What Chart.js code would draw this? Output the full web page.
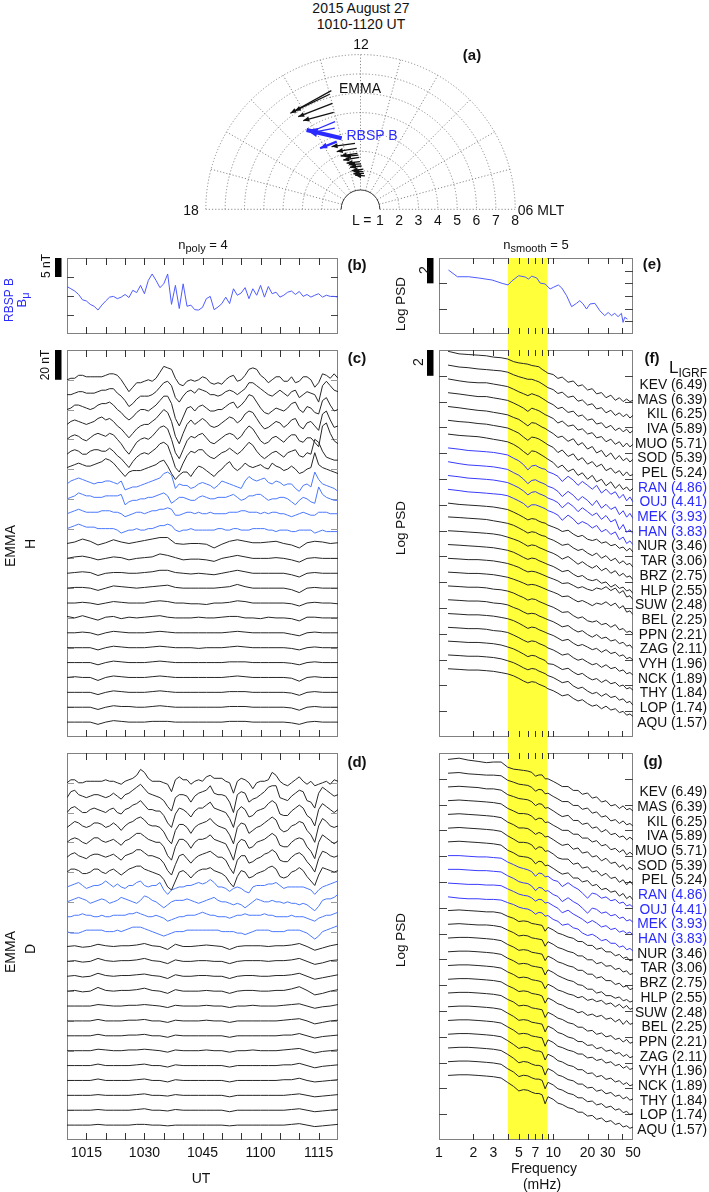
<!DOCTYPE html>
<html>
<head>
<meta charset="utf-8">
<script src="https://cdn.jsdelivr.net/npm/chart.js@4.4.1/dist/chart.umd.min.js"></script>
<style>
body { margin: 0; background: #fff; font-family: "Liberation Sans", Arial, sans-serif; color: #111; }
#page { position: relative; width: 709px; height: 1192px; overflow: hidden; }
canvas { position: absolute; }
.t { position: absolute; white-space: nowrap; font-size: 14px; line-height: 1; transform: translate(-50%, -50%); }
.r { transform: translate(-50%, -50%) rotate(-90deg); }
.b { font-weight: bold; font-size: 15px; }
.blue { color: #2b2bff; }
sub { font-size: 11px; vertical-align: -3px; }
</style>
</head>
<body>
<div id="page">
  <canvas id="chartA" width="360" height="195" style="left:180px;top:38px"></canvas>
  <canvas id="chartB" width="360" height="105" style="left:0;top:240px"></canvas>
  <canvas id="chartC" width="360" height="400" style="left:0;top:345px"></canvas>
  <canvas id="chartD" width="360" height="447" style="left:0;top:745px"></canvas>
  <canvas id="chartE" width="349" height="105" style="left:360px;top:240px"></canvas>
  <canvas id="chartF" width="349" height="400" style="left:360px;top:345px"></canvas>
  <canvas id="chartG" width="349" height="447" style="left:360px;top:745px"></canvas>

  <div class="t" style="left:361px;top:8px">2015 August 27</div>
  <div class="t" style="left:361px;top:24px">1010-1120 UT</div>
  <div class="t" style="left:361px;top:44px">12</div>
  <div class="t b" style="left:472px;top:54px">(a)</div>
  <div class="t" style="left:360px;top:88px">EMMA</div>
  <div class="t blue" style="left:372px;top:135px">RBSP B</div>
  <div class="t" style="left:191px;top:210px">18</div>
  <div class="t" style="left:541px;top:210px">06 MLT</div>

  <div class="t" style="left:203px;top:246px;font-size:13px">n<sub>poly</sub> = 4</div>
  <div class="t" style="left:536px;top:246px;font-size:13px">n<sub>smooth</sub> = 5</div>

  <div class="t r blue" style="left:9px;top:300px;font-size:12px">RBSP B</div>
  <div class="t r blue" style="left:23px;top:300px;font-size:13px">B<sub>μ</sub></div>
  <div class="t r" style="left:46px;top:266px;font-size:12px">5 nT</div>
  <div class="t r" style="left:45px;top:365px;font-size:12px">20 nT</div>
  <div class="t r" style="left:10px;top:546px">EMMA</div>
  <div class="t r" style="left:30px;top:544px">H</div>
  <div class="t r" style="left:10px;top:952px">EMMA</div>
  <div class="t r" style="left:30px;top:949px">D</div>
  <div class="t" style="left:201px;top:1178px">UT</div>

  <div class="t r" style="left:401px;top:304px;font-size:13.5px">Log PSD</div>
  <div class="t r" style="left:401px;top:528px;font-size:13.5px">Log PSD</div>
  <div class="t r" style="left:401px;top:940px;font-size:13.5px">Log PSD</div>
  <div class="t r" style="left:424px;top:270px">2</div>
  <div class="t r" style="left:418px;top:362px">2</div>
  <div class="t" style="left:544px;top:1168px">Frequency</div>
  <div class="t" style="left:542px;top:1184px">(mHz)</div>

  <div class="t b" style="left:357px;top:264px">(b)</div>
  <div class="t b" style="left:357px;top:357px">(c)</div>
  <div class="t b" style="left:357px;top:761px">(d)</div>
  <div class="t b" style="left:652px;top:263px">(e)</div>
  <div class="t b" style="left:652px;top:357px">(f)</div>
  <div class="t b" style="left:653px;top:760px">(g)</div>
  <div class="t" style="left:688px;top:367px"><span style="font-size:17px">L</span><span style="font-size:12px;position:relative;top:4px">IGRF</span></div>
</div>

<script>
// ---- stations (top to bottom) ----
const stationCodes = ['KEV','MAS','KIL','IVA','MUO','SOD','PEL','RAN','OUJ','MEK','HAN','NUR',
                      'TAR','BRZ','HLP','SUW','BEL','PPN','ZAG','VYH','NCK','THY','LOP','AQU'];
const stationL = [6.49,6.39,6.25,5.89,5.71,5.39,5.24,4.86,4.41,3.93,3.83,3.46,
                  3.06,2.75,2.55,2.48,2.25,2.21,2.11,1.96,1.89,1.84,1.74,1.57];
const highlighted = ['RAN','OUJ','MEK','HAN'];

// ---- (a) arrows: tail / head as (L, MLT) ----
const emmaTailL   = [6.32,6.16,5.67,5.20,3.42,3.16,2.90,2.80,2.69,2.47,2.35,2.24,2.08,1.95,1.87,1.74];
const emmaTailMlt = [12.92,13.00,12.99,13.03,12.32,12.24,12.21,12.15,12.09,12.05,11.95,11.90,11.73,11.70,11.63,11.50];
const emmaHeadL   = [6.15,6.12,5.77,5.46,3.57,3.23,2.94,2.85,2.70,2.49,2.38,2.24,2.05,1.98,1.87,1.79];
const emmaHeadMlt = [14.41,14.25,14.26,14.19,13.65,13.49,13.36,13.10,13.28,13.12,12.95,12.93,12.86,12.70,12.76,12.60];
const rbspTailL   = [3.80,4.72,4.40,3.71];
const rbspTailMlt = [12.99,13.08,13.17,13.29];
const rbspHeadL   = [4.96,4.73,4.62,3.79];
const rbspHeadMlt = [14.28,13.99,13.97,14.23];
const polarRings = [1,2,3,4,5,6,7,8];
const polarHours = [6,7,8,9,10,11,12,13,14,15,16,17,18];

// ---- time axis (minutes after 1010 UT) ----
const minutesFine = Array.from({length: 71}, (_, k) => k);
const minutesCoarse = Array.from({length: 36}, (_, k) => 2 * k);
const utTickMinutes = [5,10,15,20,25,30,35,40,45,50,55,60,65];
const utLabelMinutes = [5,20,35,50,65];

// ---- (b) RBSP B  B_mu, nT ----
const rbspBmu = [2.5,1.9,1.3,0.4,-1.0,-1.3,-2.2,-2.7,-3.7,-2.4,-1.3,-0.3,-0.1,-0.7,-0.3,0.4,-0.4,1.5,0.9,2.8,
  0.6,4.1,5.8,4.1,2.2,3.2,5.8,-2.2,2.8,-3.3,3.2,-2.7,-2.4,-3.6,-3.7,-3.0,-0.7,-0.1,-3.6,-2.9,
  -2.0,-0.3,-2.0,1.9,0.2,0.8,2.2,-0.7,1.9,0.2,2.8,-0.3,2.5,0.6,1.0,-0.3,0.2,1.0,1.3,0.4,
  1.2,-0.1,0.4,-0.3,0.2,0.6,-0.3,0.2,-0.1,-0.1,-0.3];

// ---- (c) EMMA H, nT ----
const hKEV = [0,1,1,3,3,2,2,2,2,2, 3,4,4,3,0,-4,-8,-5,-2,-2, -1,0,-1,1,5,9,8,7,1,-3, -4,-1,0,-1,0,2,1,-2,-3,-2, -3,0,2,3,-1,0,3,7,8,7, 3,1,-2,0,2,2,-1,-1,2,-2, -1,2,2,0,-5,-2,4,3,1,4, 1];
const hMAS = [0,0,1,2,2,1,1,1,2,3, 3,4,4,1,-1,-4,-8,-6,-3,-1, -1,-1,0,2,5,8,9,6,-2,-5, -1,2,3,1,4,3,2,0,0,-1, 0,2,3,2,0,2,4,8,8,6, 4,2,0,-1,1,3,1,-1,2,3, -2,0,2,1,0,-5,6,9,6,3, 2];
const hKIL = [0,1,3,3,2,1,0,1,3,4, 4,5,3,0,-2,-5,-7,-5,-2,0, 0,-1,1,3,6,9,9,4,-6,-11, -5,1,2,-1,2,3,1,-1,-1,0, 0,2,4,5,1,3,6,10,9,5, 1,-2,-3,-1,1,0,-1,1,4,5, 0,-2,2,1,-2,-3,6,8,3,-1, 0];
const hIVA = [0,2,3,2,1,0,1,2,4,5, 3,4,2,-1,-3,-6,-9,-6,-3,-1, 0,0,2,4,7,10,8,2,-8,-13, -6,0,3,0,2,4,2,-1,-2,-1, 1,3,5,4,1,3,7,9,8,4, 0,-3,-2,0,2,1,-2,0,3,4, -1,-3,1,2,-1,-4,7,9,3,-2, -1];
const hMUO = [0,2,3,2,0,-1,1,3,4,3, 2,4,3,0,-3,-7,-10,-6,-2,0, 1,0,2,5,8,9,7,0,-9,-13, -7,-1,2,1,3,4,1,-2,-3,-1, 1,3,4,3,0,2,6,9,7,3, -1,-3,-2,1,2,0,-2,1,3,3, -1,-2,1,1,-2,-5,9,11,4,-1, -3];
const hSOD = [0,2,3,2,0,0,2,3,3,2, 2,4,2,-1,-3,-6,-9,-5,-2,0, 1,0,2,4,7,8,6,-1,-9,-12, -6,-1,2,1,3,3,0,-2,-3,-1, 1,2,4,2,0,2,5,8,6,2, -1,-3,-1,1,2,0,-2,1,2,3, -1,-2,1,0,10,8,2,-2,-3,-4, -4];
const hPEL = [1,2,3,4,3,2,2,3,4,5, 7,6,4,1,-2,-5,-2,-1,-1,-1, 0,1,2,3,5,6,2,-3,-7,-4, -2,-2,-5,-1,2,1,-1,-3,-5,-2, 0,3,5,1,-1,1,4,2,1,2, 3,1,0,4,2,1,-1,0,2,0, -3,-2,0,1,11,3,1,0,-1,-2, -3];
const hRAN = [0,2,3,4,3,2,1,0,1,1, 2,2,1,0,2,-4,-3,-2,-2,-1, 0,1,2,3,4,7,8,6,-3,0, -1,-1,-3,-2,0,1,0,-1,-3,-1, 2,1,0,-1,-2,-3,2,5,3,2, 3,4,1,0,2,1,-1,0,0,-3, -5,-1,0,-2,8,3,0,-1,-2,-3, -5];
const hOUJ = [0,1,2,4,3,2,2,1,1,1, 2,2,2,2,3,-4,-2,-1,-1,0, 0,1,1,2,3,4,2,-3,-1,1, 1,0,-1,-1,1,2,1,0,0,1, 1,1,2,3,1,-1,0,2,2,3, 3,1,-1,0,0,1,1,0,-2,-4, -1,1,0,-2,-3,8,3,1,0,-1, -1];
const hMEK = [0,1,2,3,2,1,1,1,1,2, 2,2,1,1,0,-2,-1,0,1,1, 0,1,2,2,3,3,4,3,-1,-1, 0,1,1,0,1,0,0,1,0,0, 0,0,1,1,1,2,2,1,1,1, 0,1,0,1,1,0,0,-1,-2,-1, 0,1,0,-1,-1,1,1,1,0,0, 0];
const hHAN = [0,1,2,3,2,1,1,1,0,0, 0,0,0,-1,-3,-2,-1,-1,0,-1, -1,0,0,1,2,2,3,2,-1,-2, -1,-1,0,-1,-1,-1,-1,-1,-1,0, 0,-1,-1,0,0,-1,-1,-1,0,0, 0,0,-1,-1,-2,-1,-1,-1,-2,-2, -1,-1,-1,-1,-3,-2,-1,-2,-2,-2, -2];
const hNUR = [0,1,3,1.5,-1,0.5,2.5,1,0,1, 2,3,4,4,0,-0.5,0,0,-0.5,-3, -0.5,1.5,2.5,1.5,0.5,0.5,1,1.5,0,-1, -3,0.5,1.5,1,0,0.5];
const hTAR = [0,1,1.5,0.5,-1,0,1,0.5,-1,0, 0.5,1,3,2,0.5,-1,-0.5,-0.5,-1,-2, 0,1,2,1,0,0,0,0.5,0,-1, -2.5,0,0.5,0,0,0];
const hBRZ = [0,0.5,1,0.5,-1.5,0,0.5,0.5,0,0, 0.5,1,2,2,0.5,0,-0.5,0,-0.5,-1, 0,1,2,1,0,0,0,0,0,-1, -2.5,0,0.5,0,0,0];
const hHLP = [0,0.5,0.5,0,-1.5,0,1.5,1,0.5,0, 0.5,1,1.5,2,0.5,0,0,0,0,0, 0.5,1,2.5,1,0,0,0,0,0,-1, -3,0,0.5,0,0,0];
const hSUW = [0,0,0.5,0,-1,0,1,0.5,0,0, 0,1,1.5,1,0,0,-0.5,-0.5,-1,0, 0,0.5,1.5,1,0,0,0,0,0,-0.5, -2,0,0.5,0,0,-0.5];
const hBEL = [1,0,1.5,0,-1.5,0.5,1,-0.5,0.5,0, 0.5,1,1.5,0.5,0,0,0,0.5,0,0, 0.5,1,1,0,0,-0.5,0.5,0,0,-0.5, -2,0.5,0.5,0,0,0];
const hPPN = [0,0,0.5,0,-1.5,0,1,0.5,0,0, 0,0.5,1,0.5,0,0,0,0,0,0, 0,0.5,1,0.5,0,0,0,0,0,-1, -2,0,0.5,0,0,0];
const hZAG = [0,0,0,0,-1.5,0,1,0.5,0,0, 0,0.5,1,0.5,0,0,0,-0.5,0,0, 0,0.5,1,0.5,0,0,0,0,0,-0.5, -1.5,0,0.5,0,0,0];
const hVYH = [0,0,0,0,-1.5,0,1,0.5,0,0, 0,0.5,1,0.5,0,0,0,0,0,0, 0,0.5,0.5,0.5,0,0,0,0,0,-0.5, -1.5,0,0.5,0,0,0];
const hNCK = [0,0.5,0,0,-2,0,1,0.5,0,0, 0,0.5,1,0.5,0,0,0,0,0,0, 0,0.5,1,0.5,0,0,0,0,0,-0.5, -2.5,0,0.5,0,0,0];
const hTHY = [0,0,0,0,-1.5,0,1,0.5,0,0, 0,0.5,1,0.5,0,0,0,0,0,0, 0,0.5,0.5,0.5,0,0,0,0,0,-0.5, -2,0,0.5,0,0,0];
const hLOP = [0,0,0,0,-1.5,0,1,0.5,0.5,0, 0,0.5,1,0.5,0,0,0,0,0,0, 0,0.5,0.5,0.5,0,0,0,0,0,-0.5, -2,0,0.5,0,0,0];
const hAQU = [0,0,0,0,-1.5,0,1,0.5,0,0, 0,0.5,0.5,0.5,0,0,0,0,0,0, 0,0.5,0.5,0.5,0,0,0,0,0,-0.5, -1.5,0,0.5,0,0,0];

// ---- (d) EMMA D, nT ----
const dKEV = [0,2,2,0,0,1,1,1,1,1, 2,1,1,0,-1,1,2,3,5,9, 7,3,1,1,1,0,-1,-6,2,4, 2,2,-1,1,2,1,4,5,3,3, 3,1,0,-7,1,3,2,0,-4,0, 1,1,2,7,5,1,-1,-2,0,2, 4,1,-1,1,-2,-1,0,1,-1,2, 1];
const dMAS = [0,4,5,2,1,0,1,2,2,1, 0,1,3,1,-1,2,3,5,7,9, 6,3,2,1,0,-2,-6,-9,0,2, 2,1,-3,1,3,4,5,8,3,2, 2,1,-3,-10,2,4,3,-3,-1,0, 2,4,7,8,8,0,-1,-2,1,3, 5,4,-2,-3,-7,3,7,5,3,1, 2];
const dKIL = [0,3,4,2,0,0,2,3,2,1, 0,2,3,0,-1,2,3,5,6,8, 5,2,2,1,1,-2,-7,-10,-1,3, 2,0,-3,1,3,3,5,7,3,2, 1,0,-4,-10,1,4,2,-3,-2,1, 2,3,6,8,6,-1,-2,-2,1,3, 5,3,-2,-4,-9,2,6,4,2,0, 2];
const dIVA = [0,2,4,3,1,0,1,3,3,2, 0,1,3,1,-2,1,3,4,6,7, 5,2,1,1,0,-3,-8,-11,-2,2, 2,0,-4,0,2,3,4,6,3,1, 0,-1,-5,-11,0,3,2,-4,-2,0, 1,3,5,7,5,-1,-3,-2,1,2, 4,3,-2,-5,-10,1,6,4,1,0, 1];
const dMUO = [0,2,3,2,0,-1,1,3,3,1, 0,1,2,0,-2,1,2,4,6,6, 4,2,1,0,0,-3,-9,-12,-3,2, 2,0,-4,0,2,2,3,5,2,1, 0,-1,-6,-12,-1,2,1,-4,-3,0, 1,2,4,6,4,-2,-3,-3,0,2, 3,2,-3,-6,-11,0,5,3,1,-1, 1];
const dSOD = [0,2,3,1,0,-1,1,2,2,1, 0,1,2,0,-2,1,2,3,5,5, 3,1,1,0,-1,-4,-9,-12,-5,1, 2,-1,-4,-1,1,2,3,4,2,0, 0,-2,-7,-11,-2,1,1,-4,-3,-1, 0,2,3,5,3,-2,-3,-3,0,2, 3,1,-3,-6,-10,-1,4,3,1,0, 1];
const dPEL = [0,2,2,1,-1,-1,0,2,2,0, -1,1,2,0,-2,0,2,3,4,4, 2,1,0,-1,-2,-5,-10,-12,-6,0, 1,-1,-4,-1,1,2,2,3,1,0, -1,-3,-7,-10,-3,1,0,-4,-3,-1, 0,1,3,4,2,-3,-4,-3,0,1, 3,1,-3,-6,-9,-2,3,2,1,0, 1];
const dRAN = [0,1,2,3,1,-1,0,1,1,2, 4,2,0,2,0,-1,1,1,3,4, 1,0,1,1,3,-2,-5,-2,-1,0, 0,1,1,2,3,2,3,5,3,0, 0,-1,-3,-1,0,-1,-3,-4,0,1, 1,1,2,2,3,1,-1,0,0,0, 0,0,-1,-2,-5,-2,0,1,2,3, 4];
const dOUJ = [0,1,2,3,2,1,-1,0,1,2, 1,-1,0,1,3,2,1,0,-1,1, 4,3,1,0,-2,-4,-2,0,1,1, 1,2,1,0,-1,0,1,2,3,1, 0,0,-1,-2,-1,-2,-4,-2,0,2, 1,0,0,1,0,0,-1,0,-1,-1, -2,-1,-2,-4,-6,-3,1,2,2,3, 5];
const dMEK = [0,0,1,1,2,1,1,0,0,1, 0,0,1,1,1,1,2,2,3,2, 1,0,0,1,0,-1,-3,-2,-1,0, 0,1,1,1,2,3,2,1,1,0, 0,0,-1,0,1,1,2,1,1,1, 1,2,1,1,0,0,0,0,1,0, 0,0,-1,-2,-3,-1,0,1,1,2, 3];
const dHAN = [0,-1,-1,-1,0,1,1,1,1,1, 0,0,0,1,0,1,2,3,3,3, 2,1,0,-1,-2,-3,-2,-1,0,0, 0,1,1,1,1,1,1,1,1,1, 0,0,0,0,-1,-1,-2,-1,0,1, 1,1,1,0,0,0,0,1,1,1, 1,0,-1,-3,-5,-3,0,1,2,3, 4];
const dNUR = [0,0.5,-0.5,0,1.5,0.5,0,0.5,0.5,1, 2,0.5,0,-2,1.5,0,0,0.5,1,0.5, 0,-2,0,0.5,0.5,0.5,0,0.5,0.5,1, 2,0,-2.5,-1,0.5,1.5];
const dTAR = [0,0.5,-0.5,0,2,0.5,0,0.5,0.5,1, 2,0.5,0,-1.5,1,0,0,0.5,0.5,0, 0,-1.5,0,0.5,0.5,0.5,0,0.5,0.5,1, 2,0,-2,-1,0.5,1];
const dBRZ = [0,0.5,-0.5,0,2,0.5,0,0.5,0.5,1, 1.5,0.5,0,-1.5,1,0,0,0.5,0.5,0, 0,-1.5,0,0.5,0.5,0,0,0.5,0.5,1, 2,0,-2,-1,0,1];
const dHLP = [0,0.5,-0.5,0,2.5,0.5,0,0.5,0.5,1, 2,0.5,0,-1.5,1,0,0,0,0.5,0, 0,-1.5,0,0.5,0.5,0,0,0.5,0.5,1.5, 3,0.5,-2.5,-1.5,0,1];
const dSUW = [0,0,0,0,1,0.5,0,0,0.5,0.5, 1,0.5,0,-1,0.5,0,0,0,0.5,0, 0,-1,0,0,0.5,0,0,0,0.5,1, 1.5,0,-1.5,-0.5,0,1];
const dBEL = [0,0,0,0,1,0,0,0,0.5,0.5, 1,0,0,-1,0.5,0,0,0,0.5,0, 0,-1,0,0,0,0,0,0,0.5,1, 1.5,0,-2,-1,0,0.5];
const dPPN = [0,0,0,0,1,0,0,0,0.5,0.5, 1,0,0,-1,0.5,0,0,0,0,0, 0,-1,0,0,0,0,0,0,0.5,0.5, 1.5,0,-1.5,-0.5,0,0.5];
const dZAG = [0,0,0,0,1,0.5,0,0,0.5,0.5, 1,0.5,0,-1,0.5,0,0,0,0.5,0, 0,-1,0,0,0.5,0,0,0,0.5,1, 1.5,0,-1.5,-0.5,0,0.5];
const dVYH = [0,0,0,0,1,0,0,0,0,0.5, 1,0,0,-1,0.5,0,0,0,0,0, 0,-1,0,0,0,0,0,0,0.5,0.5, 1.5,0,-1.5,-0.5,0,0.5];
const dNCK = [0,0,0,0,1,0,0,0,0,0.5, 1,0,0,-1,0.5,0,0,0,0,0, 0,-1,0,0,0,0,0,0,0.5,0.5, 1.5,0,-1,-0.5,0,0.5];
const dTHY = [0,0,0,0,0.5,0,0,0,0,0.5, 1,0,0,-0.5,0.5,0,0,0,0,0, 0,-1,0,0,0,0,0,0,0,0.5, 1,0,-1,-0.5,0,0.5];
const dLOP = [0,0,0,0,0.5,0,0,0,0,0.5, 1,0,0,-0.5,0.5,0,0,0,0,0, 0,-1,0,0,0,0,0,0,0,0.5, 1,0,-1,-0.5,0,0.5];
const dAQU = [0,0,0,0,0.5,0,0,0,0,0.5, 0.5,0,0,-0.5,0,0,0,0,0,0, 0,-0.5,0,0,0,0,0,0,0,0.5, 1,0,-1,-0.5,0,0.5];

// ---- (e) RBSP B PSD ----
const rbspFreq = [1.21,1.45,1.82,2.23,2.92, 3.57,4.02,4.36,4.98,5.69, 6.08,6.5,7.19,7.69,8.5, 9.4,10,11.1,11.9,13.1,
  14.5,16.0,17.1,18.3,19.6, 21,23.2,25.6,28.3,30.3, 32.4,34.6,37,39.6,40.9, 42.3,44.7];
const rbspPSD = [5.05,4.52,4.52,4.42,4.26, 4.0,3.87,4.2,4.6,4.5, 4.34,4.57,4.42,4.02,3.95, 3.55,3.68,3.87,3.63,3.03,
  2.16,2.42,2.63,2.37,1.97, 2.37,2.42,1.84,1.45,1.7, 1.45,1.63,1.37,1.63,0.92, 1.32,1.18];
const pulsationBand = [4.0, 8.9];   // mHz, shaded

// ---- (f) / (g) EMMA PSD, log units relative to each trace's first point ----
const psdFreq = [1.2,1.5,1.8,2.2,2.6, 3.0,3.5,4.0,4.5,5.0, 5.5,6.0,6.5,7.0,7.5, 8.0,8.5,9.0,10,11,
  12,13.5,15,16.5,18, 20,22,24,26.5,29, 32,35,38,41,44, 47,50];
const freqTicks = [2,3,4,5,6,7,8,9,10,20,30,40];
const freqLabels = [1,2,3,5,7,10,20,30,50];

const psdH_KEV = [0,-0.2,-0.25,-0.3,-0.35, -0.45,-0.5,-0.6,-0.8,-0.9, -0.95,-1.0,-1.1,-1.15,-1.2, -1.4,-1.55,-1.7,-1.8,-2.1, -2.0,-2.4,-2.3,-2.7,-2.6, -3.0,-2.9,-3.3,-3.2,-3.6, -3.4,-3.8,-3.6,-3.9,-3.7, -3.9,-3.8];
const psdH_MAS = [0,-0.15,-0.2,-0.3,-0.35, -0.4,-0.45,-0.55,-0.75,-0.9, -1.0,-1.1,-1.1,-1.2,-1.3, -1.45,-1.6,-1.75,-1.9,-2.2, -2.1,-2.5,-2.4,-2.8,-2.7, -3.1,-3.0,-3.4,-3.3,-3.7, -3.5,-3.9,-3.7,-4.0,-3.8, -4.1,-3.9];
const psdH_KIL = [0,-0.15,-0.25,-0.3,-0.3, -0.4,-0.5,-0.6,-0.8,-1.0, -1.15,-1.3,-1.15,-1.25,-1.35, -1.5,-1.65,-1.8,-2.0,-2.3, -2.2,-2.6,-2.5,-2.9,-2.8, -3.2,-3.1,-3.5,-3.4,-3.8, -3.6,-4.0,-3.8,-4.1,-3.9, -4.2,-4.0];
const psdH_IVA = [0,-0.1,-0.2,-0.3,-0.3, -0.4,-0.5,-0.6,-0.8,-1.0, -1.2,-1.45,-1.2,-1.3,-1.4, -1.55,-1.7,-1.8,-2.0,-2.35, -2.2,-2.6,-2.5,-2.9,-2.8, -3.2,-3.1,-3.5,-3.4,-3.8, -3.6,-4.0,-3.8,-4.2,-3.9, -4.2,-4.0];
const psdH_MUO = [0,-0.1,-0.2,-0.3,-0.35, -0.45,-0.55,-0.65,-0.85,-1.0, -1.25,-1.5,-1.25,-1.3,-1.45, -1.6,-1.7,-1.85,-2.1,-2.4, -2.3,-2.7,-2.5,-3.0,-2.8, -3.3,-3.1,-3.6,-3.4,-3.9, -3.6,-4.1,-3.8,-4.2,-4.0, -4.3,-4.1];
const psdH_SOD = [0,-0.1,-0.15,-0.25,-0.3, -0.4,-0.5,-0.6,-0.8,-1.0, -1.3,-1.55,-1.3,-1.35,-1.45, -1.6,-1.75,-1.9,-2.1,-2.5, -2.3,-2.8,-2.6,-3.1,-2.9, -3.4,-3.2,-3.6,-3.4,-3.9, -3.7,-4.1,-3.9,-4.3,-4.0, -4.3,-4.2];
const psdH_PEL = [0,-0.1,-0.15,-0.2,-0.3, -0.4,-0.5,-0.6,-0.8,-1.05, -1.35,-1.6,-1.3,-1.35,-1.5, -1.65,-1.8,-1.95,-2.2,-2.6, -2.4,-2.9,-2.7,-3.2,-3.0, -3.5,-3.2,-3.7,-3.5,-4.0, -3.7,-4.2,-3.9,-4.3,-4.1, -4.4,-4.2];
const psdH_RAN = [0,-0.1,-0.2,-0.25,-0.3, -0.35,-0.45,-0.55,-0.8,-1.0, -1.3,-1.7,-1.4,-1.35,-1.5, -1.6,-1.65,-1.85,-2.0,-2.2, -2.6,-2.2,-2.5,-2.9,-2.6, -2.9,-3.2,-2.9,-3.5,-3.2, -3.6,-3.4,-3.9,-3.6,-4.1, -3.8,-4.2];
const psdH_OUJ = [0,-0.15,-0.25,-0.3,-0.35, -0.4,-0.5,-0.6,-0.85,-1.05, -1.35,-1.7,-1.45,-1.4,-1.55, -1.65,-1.75,-1.9,-2.05,-2.3, -2.7,-2.3,-2.6,-3.0,-2.7, -3.0,-3.4,-3.0,-3.6,-3.3, -3.7,-3.5,-4.1,-3.8,-4.3, -4.0,-4.4];
const psdH_MEK = [0,-0.1,-0.2,-0.25,-0.3, -0.35,-0.45,-0.55,-0.75,-0.95, -1.2,-1.5,-1.3,-1.25,-1.4, -1.5,-1.6,-1.75,-1.9,-2.1, -2.5,-2.1,-2.4,-2.8,-2.5, -2.8,-3.1,-2.9,-3.4,-3.1, -3.6,-3.4,-4.2,-3.8,-4.4, -4.2,-4.5];
const psdH_HAN = [0,-0.1,-0.2,-0.25,-0.3, -0.35,-0.4,-0.5,-0.7,-0.9, -1.1,-1.4,-1.2,-1.2,-1.3, -1.4,-1.5,-1.65,-1.8,-2.0, -2.4,-2.0,-2.3,-2.7,-2.5, -2.7,-3.0,-2.8,-3.3,-3.1, -3.5,-3.3,-3.9,-3.7,-4.2, -4.0,-4.3];
const psdH_NUR = [0,-0.1,-0.15,-0.2,-0.25, -0.3,-0.4,-0.5,-0.7,-0.9, -1.1,-1.3,-1.2,-1.25,-1.4, -1.5,-1.55,-1.7,-1.85,-2.0, -2.2,-2.1,-2.4,-2.6,-2.5, -2.8,-2.9,-2.8,-3.1,-3.0, -3.3,-3.2,-3.5,-3.4,-3.7, -3.5,-3.8];
const psdH_TAR = [0,-0.05,-0.1,-0.15,-0.2, -0.3,-0.4,-0.5,-0.65,-0.85, -1.05,-1.25,-1.15,-1.2,-1.35, -1.45,-1.5,-1.65,-1.8,-2.0, -2.2,-2.1,-2.4,-2.6,-2.5, -2.8,-3.0,-2.8,-3.2,-3.0, -3.4,-3.2,-3.6,-3.4,-3.7, -3.6,-3.9];
const psdH_BRZ = [0,-0.05,-0.1,-0.15,-0.2, -0.25,-0.35,-0.5,-0.65,-0.8, -1.0,-1.2,-1.1,-1.15,-1.3, -1.4,-1.5,-1.6,-1.75,-1.95, -2.2,-2.0,-2.3,-2.6,-2.4, -2.7,-2.9,-2.7,-3.1,-2.9, -3.3,-3.1,-3.5,-3.3,-3.6, -3.5,-3.8];
const psdH_HLP = [0,-0.05,-0.1,-0.15,-0.2, -0.25,-0.35,-0.45,-0.6,-0.8, -1.0,-1.15,-1.05,-1.1,-1.25, -1.35,-1.45,-1.55,-1.7,-1.9, -2.1,-2.0,-2.3,-2.5,-2.4, -2.7,-2.8,-2.7,-3.0,-2.9, -3.3,-3.1,-3.4,-3.3,-3.6, -3.5,-3.8];
const psdH_SUW = [0,-0.05,-0.1,-0.1,-0.15, -0.2,-0.3,-0.4,-0.55,-0.7, -0.9,-1.05,-1.0,-1.05,-1.15, -1.25,-1.35,-1.45,-1.6,-1.75, -1.95,-1.9,-2.1,-2.3,-2.2, -2.4,-2.5,-2.3,-2.4,-2.2, -2.5,-2.3,-2.7,-2.5,-3.0, -2.9,-3.2];
const psdH_BEL = [0,-0.05,-0.1,-0.1,-0.15, -0.2,-0.3,-0.4,-0.55,-0.7, -0.85,-1.0,-0.95,-1.0,-1.1, -1.2,-1.3,-1.4,-1.55,-1.7, -1.9,-1.85,-2.1,-2.3,-2.2, -2.4,-2.6,-2.4,-2.5,-2.3, -2.6,-2.4,-2.8,-2.6,-3.1, -3.0,-3.3];
const psdH_PPN = [0,-0.05,-0.1,-0.1,-0.15, -0.25,-0.3,-0.4,-0.55,-0.75, -0.9,-1.1,-1.0,-1.05,-1.2, -1.3,-1.4,-1.5,-1.65,-1.85, -2.05,-2.0,-2.3,-2.5,-2.4, -2.7,-2.8,-2.7,-3.0,-2.9, -3.2,-3.0,-3.4,-3.3,-3.6, -3.5,-3.7];
const psdH_ZAG = [0,-0.05,-0.1,-0.1,-0.15, -0.25,-0.3,-0.4,-0.6,-0.75, -0.95,-1.1,-1.05,-1.1,-1.25, -1.35,-1.45,-1.55,-1.7,-1.9, -2.1,-2.0,-2.3,-2.5,-2.4, -2.7,-2.9,-2.7,-3.0,-2.9, -3.2,-3.1,-3.4,-3.3,-3.6, -3.5,-3.8];
const psdH_VYH = [0,-0.05,-0.1,-0.1,-0.15, -0.2,-0.3,-0.4,-0.55,-0.75, -0.95,-1.15,-1.05,-1.1,-1.25, -1.35,-1.45,-1.55,-1.7,-1.9, -2.1,-2.0,-2.3,-2.5,-2.4, -2.6,-2.8,-2.7,-3.0,-2.8, -3.1,-3.0,-3.3,-3.2,-3.5, -3.4,-3.6];
const psdH_NCK = [0,-0.05,-0.1,-0.1,-0.15, -0.25,-0.3,-0.4,-0.6,-0.8, -1.0,-1.15,-1.05,-1.1,-1.25, -1.35,-1.45,-1.6,-1.75,-1.95, -2.15,-2.05,-2.35,-2.55,-2.45, -2.7,-2.9,-2.8,-3.1,-2.9, -3.2,-3.1,-3.4,-3.3,-3.6, -3.5,-3.7];
const psdH_THY = [0,-0.05,-0.1,-0.1,-0.15, -0.2,-0.3,-0.45,-0.6,-0.8, -1.0,-1.2,-1.1,-1.15,-1.3, -1.4,-1.5,-1.75,-1.8,-2.0, -2.2,-2.1,-2.4,-2.6,-2.5, -2.8,-3.0,-2.9,-3.2,-3.0, -3.3,-3.2,-3.5,-3.4,-3.7, -3.6,-3.8];
const psdH_LOP = [0,-0.05,-0.1,-0.1,-0.15, -0.2,-0.3,-0.45,-0.6,-0.8, -1.0,-1.15,-1.05,-1.1,-1.25, -1.35,-1.45,-1.6,-1.75,-1.95, -2.15,-2.05,-2.4,-2.6,-2.5, -2.8,-3.0,-2.9,-3.2,-3.0, -3.3,-3.2,-3.5,-3.4,-3.7, -3.6,-3.9];
const psdH_AQU = [0,-0.05,-0.1,-0.1,-0.15, -0.2,-0.3,-0.4,-0.55,-0.75, -0.95,-1.1,-1.0,-1.05,-1.2, -1.3,-1.4,-1.55,-1.7,-1.9, -2.1,-2.0,-2.3,-2.5,-2.4, -2.7,-2.9,-2.8,-3.1,-2.9, -3.2,-3.1,-3.4,-3.3,-3.6, -3.5,-3.7];

const psdD_KEV = [0,0.1,-0.05,-0.15,-0.25, -0.2,-0.2,-0.6,-0.75,-0.8, -0.85,-0.9,-1.0,-1.3,-1.2, -1.2,-1.5,-1.5,-1.7,-1.9, -2.1,-2.1,-2.4,-2.4,-2.7, -2.6,-3.0,-2.9,-3.3,-3.2, -3.6,-3.5,-3.8,-3.6,-3.9, -3.8,-4.0];
const psdD_MAS = [0,0.05,-0.05,-0.1,-0.15, -0.15,-0.2,-0.55,-0.7,-0.85, -0.9,-0.95,-1.1,-1.4,-1.25, -1.3,-1.6,-1.55,-1.8,-2.0, -2.2,-2.2,-2.5,-2.5,-2.8, -2.7,-3.1,-3.0,-3.4,-3.3, -3.7,-3.6,-3.9,-3.7,-4.0, -3.9,-4.1];
const psdD_KIL = [0,0.05,0,-0.05,-0.15, -0.15,-0.25,-0.6,-0.75,-0.9, -0.95,-1.0,-1.15,-1.45,-1.3, -1.35,-1.65,-1.6,-1.85,-2.1, -2.3,-2.2,-2.6,-2.6,-2.9, -2.8,-3.2,-3.1,-3.5,-3.3, -3.7,-3.6,-3.9,-3.8,-4.1, -3.9,-4.1];
const psdD_IVA = [0,0.05,0,-0.05,-0.1, -0.15,-0.25,-0.6,-0.8,-1.0, -1.0,-1.05,-1.2,-1.5,-1.35, -1.4,-1.7,-1.65,-1.9,-2.1, -2.3,-2.3,-2.6,-2.6,-2.9, -2.9,-3.2,-3.1,-3.5,-3.4, -3.8,-3.7,-4.0,-3.8,-4.2, -4.0,-4.2];
const psdD_MUO = [0,0.05,0,-0.05,-0.1, -0.15,-0.25,-0.6,-0.8,-1.05, -1.05,-1.1,-1.3,-1.55,-1.4, -1.5,-1.75,-1.7,-1.95,-2.2, -2.4,-2.3,-2.7,-2.6,-3.0, -2.9,-3.3,-3.2,-3.6,-3.4, -3.8,-3.7,-4.1,-3.9,-4.3, -4.1,-4.3];
const psdD_SOD = [0,0.05,0,-0.05,-0.1, -0.15,-0.25,-0.6,-0.85,-1.1, -1.1,-1.15,-1.3,-1.65,-1.45, -1.5,-1.8,-1.75,-2.0,-2.3, -2.4,-2.4,-2.8,-2.7,-3.1, -3.0,-3.4,-3.3,-3.7,-3.5, -3.9,-3.8,-4.2,-4.0,-4.4, -4.1,-4.4];
const psdD_PEL = [0,0.05,0,-0.05,-0.1, -0.15,-0.25,-0.65,-0.85,-1.1, -1.15,-1.2,-1.35,-1.7,-1.5, -1.55,-1.85,-1.8,-2.05,-2.3, -2.5,-2.4,-2.8,-2.8,-3.1, -3.0,-3.4,-3.3,-3.7,-3.6, -3.9,-3.8,-4.2,-4.0,-4.4, -4.2,-4.5];
const psdD_RAN = [0,0,-0.05,-0.1,-0.1, -0.15,-0.2,-0.5,-0.7,-0.9, -1.0,-1.1,-1.25,-1.6,-1.35, -1.4,-1.65,-1.6,-1.9,-2.0, -2.4,-2.1,-2.4,-2.6,-2.9, -3.3,-2.9,-3.0,-3.3,-3.2, -3.5,-3.4,-3.7,-3.6,-3.9, -3.8,-4.0];
const psdD_OUJ = [0,0,-0.05,-0.1,-0.1, -0.15,-0.2,-0.5,-0.7,-0.95, -1.05,-1.1,-1.3,-1.65,-1.4, -1.45,-1.7,-1.65,-1.95,-2.1, -2.5,-2.2,-2.5,-2.7,-3.0, -3.4,-3.0,-3.1,-3.4,-3.3, -3.6,-3.5,-3.8,-3.7,-4.0, -3.9,-4.1];
const psdD_MEK = [0,-0.05,-0.1,-0.1,-0.15, -0.15,-0.2,-0.45,-0.65,-0.85, -0.95,-1.0,-1.15,-1.4,-1.25, -1.3,-1.55,-1.5,-1.75,-1.95, -2.3,-2.1,-2.4,-2.6,-2.8, -3.1,-2.9,-3.1,-3.4,-3.3, -3.6,-3.5,-3.8,-3.7,-3.9, -3.8,-4.0];
const psdD_HAN = [0,-0.1,-0.15,-0.15,-0.2, -0.2,-0.25,-0.45,-0.6,-0.8, -0.9,-0.95,-1.1,-1.35,-1.2, -1.25,-1.5,-1.45,-1.75,-1.9, -2.2,-2.1,-2.4,-2.5,-2.8, -3.0,-2.9,-3.1,-3.4,-3.3, -3.6,-3.6,-3.9,-3.8,-4.1, -4.0,-4.2];
const psdD_NUR = [0,0.05,0,-0.05,-0.1, -0.1,-0.2,-0.45,-0.6,-0.85, -0.8,-0.85,-1.0,-1.05,-1.1, -1.15,-1.6,-1.3,-1.5,-1.75, -1.85,-2.05,-2.15,-2.4,-2.4, -2.7,-2.7,-3.0,-2.9,-3.2, -3.2,-3.5,-3.4,-3.7,-3.6, -3.9,-3.8];
const psdD_TAR = [0,0.05,0,-0.05,-0.05, -0.1,-0.2,-0.45,-0.65,-0.9, -0.85,-0.9,-1.05,-1.1,-1.15, -1.2,-1.7,-1.35,-1.55,-1.8, -1.9,-2.1,-2.2,-2.45,-2.45, -2.75,-2.75,-3.05,-2.95,-3.25, -3.2,-3.5,-3.4,-3.7,-3.6, -3.9,-3.8];
const psdD_BRZ = [0,0.05,0.05,0,-0.05, -0.1,-0.2,-0.5,-0.7,-0.95, -0.9,-0.95,-1.1,-1.15,-1.2, -1.25,-1.75,-1.4,-1.6,-1.85, -1.95,-2.15,-2.25,-2.5,-2.5, -2.8,-2.8,-3.1,-3.0,-3.3, -3.3,-3.6,-3.5,-3.8,-3.7, -4.0,-3.9];
const psdD_HLP = [0,0.05,0.05,0,-0.05, -0.1,-0.2,-0.5,-0.7,-0.95, -0.9,-0.95,-1.1,-1.15,-1.2, -1.25,-1.8,-1.4,-1.6,-1.85, -2.0,-2.2,-2.3,-2.55,-2.6, -2.9,-2.9,-3.2,-3.1,-3.4, -3.4,-3.6,-3.5,-3.8,-3.7, -3.9,-3.8];
const psdD_SUW = [0,0.05,0.05,0,-0.05, -0.1,-0.2,-0.5,-0.7,-0.95, -0.9,-0.95,-1.1,-1.15,-1.2, -1.3,-1.8,-1.45,-1.65,-1.9, -2.0,-2.2,-2.3,-2.5,-2.4, -2.7,-2.6,-2.8,-2.7,-3.0, -2.9,-3.2,-3.0,-3.3,-3.1, -3.4,-3.3];
const psdD_BEL = [0,0.05,0.05,0,-0.05, -0.1,-0.2,-0.5,-0.7,-0.95, -0.9,-0.95,-1.1,-1.15,-1.2, -1.3,-1.85,-1.45,-1.65,-1.9, -2.0,-2.25,-2.35,-2.6,-2.5, -2.8,-2.7,-2.9,-2.8,-3.1, -3.0,-3.3,-3.1,-3.5,-3.2, -3.5,-3.4];
const psdD_PPN = [0,0.05,0.05,0,-0.05, -0.1,-0.2,-0.5,-0.7,-1.0, -0.95,-1.0,-1.15,-1.2,-1.25, -1.3,-1.9,-1.5,-1.7,-1.95, -2.05,-2.3,-2.4,-2.65,-2.65, -2.95,-2.9,-3.2,-3.1,-3.4, -3.3,-3.6,-3.5,-3.8,-3.6, -3.9,-3.8];
const psdD_ZAG = [0,0.05,0.05,0,-0.05, -0.1,-0.2,-0.5,-0.75,-1.05, -1.0,-1.05,-1.2,-1.25,-1.3, -1.35,-1.95,-1.5,-1.7,-2.0, -2.1,-2.35,-2.45,-2.7,-2.7, -3.0,-2.95,-3.25,-3.15,-3.45, -3.35,-3.65,-3.55,-3.85,-3.7, -3.95,-3.85];
const psdD_VYH = [0,0.05,0.05,0,-0.05, -0.1,-0.2,-0.5,-0.75,-1.05, -1.0,-1.05,-1.2,-1.25,-1.3, -1.35,-2.0,-1.5,-1.7,-2.0, -2.1,-2.3,-2.4,-2.6,-2.6, -2.9,-2.85,-3.1,-3.0,-3.3, -3.2,-3.5,-3.4,-3.7,-3.55, -3.8,-3.7];
const psdD_NCK = [0,0.05,0.05,0,-0.05, -0.1,-0.2,-0.5,-0.8,-1.1, -1.0,-1.05,-1.2,-1.3,-1.3, -1.4,-2.0,-1.55,-1.75,-2.05, -2.15,-2.4,-2.5,-2.75,-2.75, -3.05,-3.0,-3.3,-3.2,-3.5, -3.4,-3.7,-3.6,-3.9,-3.75, -4.0,-3.9];
const psdD_THY = [0,0.05,0.05,0,-0.05, -0.1,-0.2,-0.5,-0.8,-1.15, -1.05,-1.1,-1.25,-1.35,-1.35, -1.45,-2.1,-1.6,-1.8,-2.1, -2.2,-2.45,-2.55,-2.8,-2.8, -3.1,-3.05,-3.35,-3.25,-3.55, -3.45,-3.75,-3.65,-3.95,-3.8, -4.05,-3.95];
const psdD_LOP = [0,0.05,0.05,0,-0.05, -0.1,-0.2,-0.55,-0.8,-1.15, -1.05,-1.1,-1.25,-1.35,-1.35, -1.45,-2.1,-1.6,-1.8,-2.1, -2.2,-2.45,-2.55,-2.8,-2.8, -3.1,-3.05,-3.35,-3.25,-3.55, -3.45,-3.75,-3.65,-3.95,-3.85, -4.1,-4.0];
const psdD_AQU = [0,0.05,0.05,0,-0.05, -0.1,-0.2,-0.55,-0.85,-1.2, -1.1,-1.15,-1.3,-1.4,-1.4, -1.5,-2.2,-1.65,-1.85,-2.15, -2.25,-2.5,-2.6,-2.85,-2.85, -3.15,-3.1,-3.4,-3.3,-3.6, -3.5,-3.8,-3.7,-4.0,-3.9, -4.1,-4.0];

// ---- assemble ----
const emmaH = [hKEV,hMAS,hKIL,hIVA,hMUO,hSOD,hPEL,hRAN,hOUJ,hMEK,hHAN,hNUR,hTAR,hBRZ,hHLP,hSUW,hBEL,hPPN,hZAG,hVYH,hNCK,hTHY,hLOP,hAQU];
const emmaD = [dKEV,dMAS,dKIL,dIVA,dMUO,dSOD,dPEL,dRAN,dOUJ,dMEK,dHAN,dNUR,dTAR,dBRZ,dHLP,dSUW,dBEL,dPPN,dZAG,dVYH,dNCK,dTHY,dLOP,dAQU];
const psdH = [psdH_KEV,psdH_MAS,psdH_KIL,psdH_IVA,psdH_MUO,psdH_SOD,psdH_PEL,psdH_RAN,psdH_OUJ,psdH_MEK,psdH_HAN,psdH_NUR,psdH_TAR,psdH_BRZ,psdH_HLP,psdH_SUW,psdH_BEL,psdH_PPN,psdH_ZAG,psdH_VYH,psdH_NCK,psdH_THY,psdH_LOP,psdH_AQU];
const psdD = [psdD_KEV,psdD_MAS,psdD_KIL,psdD_IVA,psdD_MUO,psdD_SOD,psdD_PEL,psdD_RAN,psdD_OUJ,psdD_MEK,psdD_HAN,psdD_NUR,psdD_TAR,psdD_BRZ,psdD_HLP,psdD_SUW,psdD_BEL,psdD_PPN,psdD_ZAG,psdD_VYH,psdD_NCK,psdD_THY,psdD_LOP,psdD_AQU];

Chart.defaults.font.family = '"Liberation Sans", Arial, sans-serif';
Chart.defaults.color = '#111';

const BLACK = '#262626';
const BLUE_TS = '#4a78ff';
const BLUE_PSD = '#3a3aff';
const BLUE_SC = '#4f5bff';
const TRACE_SPACING = 10;   // nT between stacked magnetograms

// frame, yellow band, inward ticks and scale bar
const framePlugin = {
  id: 'frame',
  beforeDatasetsDraw(chart, args, o) {
    const {ctx, chartArea: a, scales: {x, y}} = chart;
    ctx.save();
    ctx.strokeStyle = '#808080';
    ctx.lineWidth = 1;
    ctx.strokeRect(a.left + 0.5, a.top + 0.5, a.width - 1, a.height - 1);
    if (o.band) {
      const x0 = x.getPixelForValue(o.band[0]);
      const x1 = x.getPixelForValue(o.band[1]);
      const top = o.bandTop === 'canvas' ? 0 : a.top;
      const bot = o.bandBottom === 'canvas' ? chart.height : a.bottom - 1;
      ctx.fillStyle = '#ffff3a';
      ctx.fillRect(x0, top, x1 - x0, bot - top);
    }
    ctx.strokeStyle = o.xColor || '#333';
    ctx.beginPath();
    (o.xTicks || []).forEach(v => {
      const px = Math.round(x.getPixelForValue(v)) + 0.5;
      ctx.moveTo(px, a.top); ctx.lineTo(px, a.top + o.xLen);
      ctx.moveTo(px, a.bottom); ctx.lineTo(px, a.bottom - o.xLen);
    });
    ctx.stroke();
    ctx.strokeStyle = o.yColor || '#666';
    ctx.beginPath();
    (o.yLeft || []).forEach(v => {
      const py = Math.round(y.getPixelForValue(v)) + 0.5;
      ctx.moveTo(a.left, py); ctx.lineTo(a.left + o.yLen, py);
    });
    (o.yRight || []).forEach(v => {
      const py = Math.round(y.getPixelForValue(v)) + 0.5;
      ctx.moveTo(a.right, py); ctx.lineTo(a.right - o.yLen, py);
    });
    ctx.stroke();
    if (o.bar) {
      const y0 = y.getPixelForValue(y.max);
      const y1 = y.getPixelForValue(y.max - o.bar);
      ctx.fillStyle = '#000';
      ctx.fillRect(a.left - 12, y0, 6.5, y1 - y0);
    }
    ctx.restore();
  }
};

function baseOptions(pad, xScale, yMin, yMax, frame) {
  return {
    responsive: false,
    animation: false,
    devicePixelRatio: 1,
    layout: {padding: pad},
    plugins: {legend: {display: false}, tooltip: {enabled: false}, frame: frame},
    elements: {point: {radius: 0}, line: {tension: 0, borderWidth: 1}},
    scales: {
      x: xScale,
      y: {type: 'linear', min: yMin, max: yMax, display: false}
    }
  };
}

function utLabel(m) {
  const total = 10 * 60 + 10 + m;
  return String(Math.floor(total / 60)) + String(total % 60).padStart(2, '0');
}

function timeAxis(withLabels) {
  const ax = {type: 'linear', min: 0, max: 70, display: withLabels,
    grid: {display: false, drawTicks: false}, border: {display: false}};
  if (withLabels) {
    ax.afterBuildTicks = s => { s.ticks = utLabelMinutes.map(v => ({value: v})); };
    ax.afterFit = s => { s.height = 40; };
    ax.ticks = {autoSkip: false, maxRotation: 0, padding: 5, font: {size: 14}, color: '#111',
      callback: v => utLabel(v)};
  }
  return ax;
}

function freqAxis(withLabels) {
  const ax = {type: 'logarithmic', min: 1, max: 50, display: withLabels,
    grid: {display: false, drawTicks: false}, border: {display: false}};
  if (withLabels) {
    ax.afterBuildTicks = s => { s.ticks = freqLabels.map(v => ({value: v})); };
    ax.afterFit = s => { s.height = 40; };
    ax.ticks = {autoSkip: false, maxRotation: 0, padding: 5, font: {size: 14}, color: '#111',
      callback: v => String(v)};
  }
  return ax;
}

function stackTimeSets(traces) {
  return traces.map((vals, i) => {
    const xs = vals.length === minutesFine.length ? minutesFine : minutesCoarse;
    const base = (traces.length - 1 - i) * TRACE_SPACING;
    return {
      data: vals.map((v, k) => ({x: xs[k], y: base + v})),
      borderColor: highlighted.includes(stationCodes[i]) ? BLUE_TS : BLACK,
      borderWidth: 1, pointRadius: 0
    };
  });
}

function stackPsdSets(traces, top, step) {
  return traces.map((vals, i) => ({
    data: vals.map((v, k) => ({x: psdFreq[k], y: top - i * step + v})),
    borderColor: highlighted.includes(stationCodes[i]) ? BLUE_PSD : BLACK,
    borderWidth: 1, pointRadius: 0
  }));
}

const nTTicks = [10,30,50,70,90,110,130,150,170,190,210,230];
const psdTicks = [2,4,6,8,10,12,14,16,18,20,22,24,26,28];

// ---- (b) ----
new Chart(document.getElementById('chartB'), {
  type: 'line',
  data: {datasets: [{data: rbspBmu.map((v, k) => ({x: minutesFine[k], y: v})), borderColor: BLUE_SC, borderWidth: 1, pointRadius: 0}]},
  options: baseOptions({left: 67, right: 22, top: 18, bottom: 11}, timeAxis(false), -10, 10,
    {xTicks: utTickMinutes, xLen: 7, yLeft: [-5,0,5], yRight: [-5,0,5], yLen: 7, yColor: '#444', bar: 5}),
  plugins: [framePlugin]
});

// ---- (c) ----
new Chart(document.getElementById('chartC'), {
  type: 'line',
  data: {datasets: stackTimeSets(emmaH)},
  options: baseOptions({left: 67, right: 22, top: 5, bottom: 8}, timeAxis(false), -10, 250,
    {xTicks: utTickMinutes, xLen: 7, yLeft: nTTicks, yRight: nTTicks, yLen: 7, yColor: '#999', bar: 20}),
  plugins: [framePlugin]
});

// ---- (d) ----
new Chart(document.getElementById('chartD'), {
  type: 'line',
  data: {datasets: stackTimeSets(emmaD)},
  options: baseOptions({left: 67, right: 22, top: 8, bottom: 12}, timeAxis(true), -10, 250,
    {xTicks: utTickMinutes, xLen: 7, yLeft: nTTicks, yRight: nTTicks, yLen: 7, yColor: '#999'}),
  plugins: [framePlugin]
});

// ---- (e) ----
new Chart(document.getElementById('chartE'), {
  type: 'line',
  data: {datasets: [{data: rbspPSD.map((v, k) => ({x: rbspFreq[k], y: v})), borderColor: BLUE_SC, borderWidth: 1, pointRadius: 0}]},
  options: baseOptions({left: 79, right: 76, top: 18, bottom: 11}, freqAxis(false), 0, 6,
    {band: pulsationBand, bandTop: 'area', bandBottom: 'canvas', xTicks: freqTicks, xLen: 6,
     yLeft: [2,4], yRight: [1,2,3,4,5], yLen: 8, yColor: '#444', bar: 2}),
  plugins: [framePlugin]
});

// ---- (f) ----
new Chart(document.getElementById('chartF'), {
  type: 'line',
  data: {datasets: stackPsdSets(psdH, 29.9, 1.07)},
  options: baseOptions({left: 79, right: 76, top: 5, bottom: 8}, freqAxis(false), 0, 30,
    {band: pulsationBand, bandTop: 'canvas', bandBottom: 'canvas', xTicks: freqTicks, xLen: 6,
     yLeft: psdTicks, yRight: psdTicks, yLen: 8, yColor: '#444', bar: 2}),
  plugins: [framePlugin]
});

// ---- (g) ----
new Chart(document.getElementById('chartG'), {
  type: 'line',
  data: {datasets: stackPsdSets(psdD, 29.5, 1.065)},
  options: baseOptions({left: 79, right: 76, top: 8, bottom: 12}, freqAxis(true), 0, 30,
    {band: pulsationBand, bandTop: 'canvas', bandBottom: 'area', xTicks: freqTicks, xLen: 6,
     yLeft: psdTicks, yRight: psdTicks, yLen: 8, yColor: '#444'}),
  plugins: [framePlugin]
});

// ---- (a) polar L-MLT plot ----
function polarXY(L, mlt) {
  const th = (mlt - 12) * Math.PI / 12;
  return {x: -L * Math.sin(th), y: L * Math.cos(th)};
}

const polarGrid = {
  id: 'polarGrid',
  beforeDatasetsDraw(chart) {
    const {ctx, scales: {x, y}} = chart;
    const cx = x.getPixelForValue(0), cy = y.getPixelForValue(0);
    const unit = x.getPixelForValue(1) - cx;
    ctx.save();
    ctx.strokeStyle = '#8a8a8a';
    ctx.lineWidth = 1;
    ctx.setLineDash([1.2, 2]);
    polarRings.filter(L => L > 1).forEach(L => {
      ctx.beginPath(); ctx.arc(cx, cy, L * unit, Math.PI, 2 * Math.PI); ctx.stroke();
    });
    const inner = polarRings[0], outer = polarRings[polarRings.length - 1];
    polarHours.forEach(h => {
      const p0 = polarXY(inner, h), p1 = polarXY(outer, h);
      ctx.beginPath();
      ctx.moveTo(x.getPixelForValue(p0.x), y.getPixelForValue(p0.y));
      ctx.lineTo(x.getPixelForValue(p1.x), y.getPixelForValue(p1.y));
      ctx.stroke();
    });
    ctx.setLineDash([]);
    ctx.strokeStyle = '#333';
    ctx.beginPath(); ctx.arc(cx, cy, inner * unit, Math.PI, 2 * Math.PI); ctx.stroke();
    ctx.restore();
  }
};

const arrowHeads = {
  id: 'arrowHeads',
  afterDatasetsDraw(chart) {
    const ctx = chart.ctx;
    chart.data.datasets.forEach((ds, i) => {
      const pts = chart.getDatasetMeta(i).data;
      const a = pts[0], b = pts[1];
      const ang = Math.atan2(b.y - a.y, b.x - a.x);
      const len = ds.headSize, w = ds.headSize * 0.42;
      ctx.save();
      ctx.fillStyle = ds.borderColor;
      ctx.beginPath();
      ctx.moveTo(b.x, b.y);
      ctx.lineTo(b.x - len * Math.cos(ang) + w * Math.sin(ang), b.y - len * Math.sin(ang) - w * Math.cos(ang));
      ctx.lineTo(b.x - len * Math.cos(ang) - w * Math.sin(ang), b.y - len * Math.sin(ang) + w * Math.cos(ang));
      ctx.closePath();
      ctx.fill();
      ctx.restore();
    });
  }
};

const arrowSets = [];
emmaTailL.forEach((L, i) => {
  arrowSets.push({data: [polarXY(L, emmaTailMlt[i]), polarXY(emmaHeadL[i], emmaHeadMlt[i])],
    borderColor: '#111', borderWidth: 1.3, pointRadius: 0, headSize: 6});
});
const rbspWidths = [4, 1.2, 1.2, 2.2];
const rbspHeads = [11, 0.1, 0.1, 7];
rbspTailL.forEach((L, i) => {
  arrowSets.push({data: [polarXY(L, rbspTailMlt[i]), polarXY(rbspHeadL[i], rbspHeadMlt[i])],
    borderColor: '#2a2aff', borderWidth: rbspWidths[i], pointRadius: 0, headSize: rbspHeads[i]});
});

const polarChart = new Chart(document.getElementById('chartA'), {
  type: 'line',
  data: {datasets: arrowSets},
  options: {
    responsive: false, animation: false, devicePixelRatio: 1,
    layout: {padding: {left: 25.8, right: 24.8, top: 16.6, bottom: 23.7}},
    plugins: {legend: {display: false}, tooltip: {enabled: false}},
    scales: {
      x: {type: 'linear', min: -8, max: 8, display: false},
      y: {type: 'linear', min: 0, max: 8, display: false}
    }
  },
  plugins: [polarGrid, arrowHeads]
});

// ---- HTML labels driven by the charts ----
const page = document.getElementById('page');
function addLabel(text, left, top, extra) {
  const d = document.createElement('div');
  d.className = 't';
  d.textContent = text;
  d.style.left = left + 'px';
  d.style.top = top + 'px';
  if (extra) Object.assign(d.style, extra);
  page.appendChild(d);
  return d;
}
polarRings.forEach(L => {
  const px = 180 + polarChart.scales.x.getPixelForValue(L);
  addLabel(String(L), px, 220);
});
addLabel('L =', 180 + polarChart.scales.x.getPixelForValue(1) - 8.5, 220, {transform: 'translate(-100%, -50%)'});

function stationColumn(firstY, step) {
  stationCodes.forEach((code, i) => {
    const d = addLabel(code + ' (' + stationL[i].toFixed(2) + ')', 707, firstY + i * step,
      {transform: 'translate(-100%, -50%)', fontSize: '13.8px'});
    if (highlighted.includes(code)) d.classList.add('blue');
  });
}
stationColumn(385, 14.68);
stationColumn(792.3, 14.68);
</script>
</body>
</html>
